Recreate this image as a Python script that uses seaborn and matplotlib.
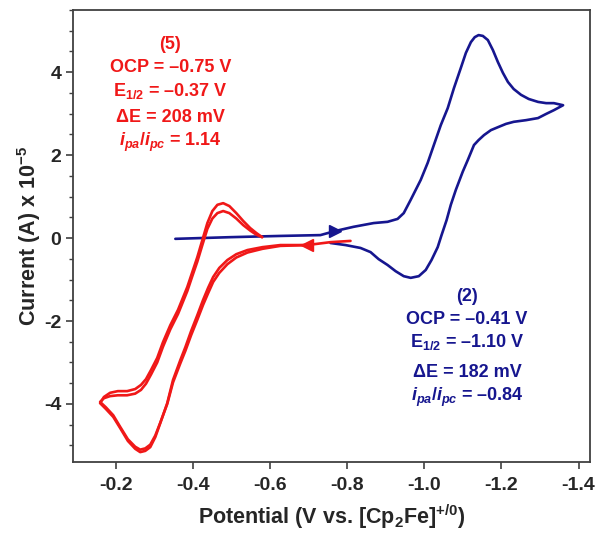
import numpy as np
import pandas as pd
import matplotlib
matplotlib.use("Agg")
import matplotlib.pyplot as plt
from matplotlib.ticker import MultipleLocator, FormatStrFormatter
import seaborn as sns

# (5) red CV - potential (V) and current (x 1e-5 A), two cycles
# lower branch (scan towards -0.16 V)
red_lower_v = [-0.809, -0.757, -0.697, -0.627, -0.581, -0.542, -0.513, -0.490, -0.469, -0.453,
               -0.440, -0.427, -0.412, -0.396, -0.381, -0.368, -0.349, -0.334, -0.316, -0.303,
               -0.290, -0.277, -0.264, -0.251, -0.232, -0.212, -0.194, -0.175, -0.160]
red_lower1_i = [-0.07, -0.10, -0.17, -0.17, -0.22, -0.29, -0.39, -0.53, -0.72, -0.94,
                -1.20, -1.49, -1.86, -2.24, -2.63, -2.94, -3.42, -3.98, -4.46, -4.80,
                -5.04, -5.13, -5.16, -5.08, -4.89, -4.58, -4.31, -4.12, -3.98]
red_lower2_i = [None, None, -0.17, -0.19, -0.26, -0.35, -0.47, -0.63, -0.84, -1.06,
                -1.33, -1.61, -1.97, -2.34, -2.72, -3.02, -3.48, -4.00, -4.45, -4.76,
                -4.98, -5.07, -5.10, -5.03, -4.85, -4.55, -4.27, -4.08, -3.95]
# upper branch (scan back towards -0.58 V)
red_upper_v = [-0.160, -0.170, -0.186, -0.206, -0.230, -0.251, -0.266, -0.279, -0.292, -0.308,
               -0.323, -0.342, -0.362, -0.386, -0.399, -0.412, -0.425, -0.438, -0.451, -0.464,
               -0.479, -0.495, -0.513, -0.531, -0.549, -0.565, -0.580]
red_upper1_i = [-3.98, -3.83, -3.73, -3.69, -3.69, -3.64, -3.54, -3.40, -3.18, -2.89,
                -2.51, -2.10, -1.73, -1.18, -0.82, -0.46, -0.05, 0.36, 0.65, 0.80,
                0.84, 0.77, 0.60, 0.41, 0.24, 0.12, 0.02]
red_upper2_i = [-3.95, -3.86, -3.81, -3.79, -3.79, -3.75, -3.66, -3.51, -3.29, -3.00,
                -2.62, -2.20, -1.83, -1.28, -0.92, -0.57, -0.17, 0.22, 0.47, 0.60,
                0.65, 0.60, 0.47, 0.31, 0.18, 0.08, 0.02]

# (2) blue CV
blue_v = [-0.355, -0.497, -0.627, -0.731, -0.770, -0.817, -0.869, -0.905, -0.931, -0.947,
          -0.965, -0.991, -1.009, -1.025, -1.043, -1.061, -1.077, -1.095, -1.108, -1.121,
          -1.131, -1.141, -1.152, -1.165, -1.178, -1.191, -1.204, -1.217, -1.232, -1.251,
          -1.271, -1.295, -1.316, -1.336, -1.360,
          -1.336, -1.316, -1.295, -1.264, -1.232, -1.212, -1.191, -1.173, -1.155, -1.141,
          -1.129, -1.113, -1.100, -1.082, -1.069, -1.058, -1.045, -1.035, -1.019, -1.004,
          -0.986, -0.965, -0.947, -0.926, -0.905, -0.882, -0.861, -0.835, -0.796, -0.757]
blue_i = [-0.02, 0.02, 0.05, 0.07, 0.17, 0.27, 0.36, 0.39, 0.46, 0.60,
          0.92, 1.40, 1.81, 2.24, 2.72, 3.13, 3.61, 4.10, 4.46, 4.72,
          4.84, 4.89, 4.87, 4.77, 4.53, 4.24, 3.98, 3.76, 3.59, 3.45,
          3.35, 3.28, 3.25, 3.25, 3.20,
          3.08, 2.99, 2.89, 2.84, 2.80, 2.75, 2.67, 2.60, 2.48, 2.36,
          2.24, 1.88, 1.60, 1.16, 0.80, 0.43, 0.07, -0.22, -0.53, -0.77,
          -0.92, -0.96, -0.92, -0.80, -0.65, -0.51, -0.34, -0.24, -0.17, -0.12]

red_text = ["(5)", "OCP = –0.75 V", "$E_{1/2}$ = –0.37 V", "ΔE = 208 mV",
            r"$\mathit{i_{pa}/i_{pc}}$ = 1.14"]
blue_text = ["(2)", "OCP = –0.41 V", "$E_{1/2}$ = –1.10 V", "ΔE = 182 mV",
             r"$\mathit{i_{pa}/i_{pc}}$ = –0.84"]

RED = "#f01818"
BLUE = "#16168f"

sns.set_style("ticks")
plt.rcParams["font.family"] = ["Liberation Sans", "DejaVu Sans"]
plt.rcParams["font.weight"] = "bold"
plt.rcParams["axes.labelweight"] = "bold"
plt.rcParams["axes.unicode_minus"] = False
plt.rcParams["mathtext.fontset"] = "custom"
plt.rcParams["mathtext.rm"] = "Liberation Sans:bold"
plt.rcParams["mathtext.bf"] = "Liberation Sans:bold"
plt.rcParams["mathtext.it"] = "Liberation Sans:italic:bold"
plt.rcParams["mathtext.default"] = "rm"

# build long table: one unit per cycle
rows = []
for cyc, (lo, up) in enumerate([(red_lower1_i, red_upper1_i), (red_lower2_i, red_upper2_i)]):
    seq = [(v, c) for v, c in zip(red_lower_v, lo) if c is not None]
    seq += list(zip(red_upper_v[1:], up[1:]))
    for k, (v, c) in enumerate(seq):
        rows.append({"cycle": cyc, "order": k, "v": v, "i": c})
df_red = pd.DataFrame(rows)
df_blue = pd.DataFrame({"v": blue_v, "i": blue_i, "cycle": 0})

fig = plt.figure(figsize=(6.04, 5.43), dpi=100)
ax = fig.add_axes([0.121, 0.149, 0.856, 0.833])

sns.lineplot(data=df_blue, x="v", y="i", units="cycle", sort=False, estimator=None,
             color=BLUE, lw=1.9, ax=ax)
sns.lineplot(data=df_red, x="v", y="i", units="cycle", sort=False, estimator=None,
             color=RED, lw=1.9, ax=ax)

# scan direction arrows
ax.plot(blue_v[4], blue_i[4], marker=">", color=BLUE, ms=8, mec=BLUE)
ax.plot(red_lower_v[2], red_lower1_i[2], marker="<", color=RED, ms=8, mec=RED)

ax.set_xlim(-0.09, -1.43)
ax.set_ylim(-5.4, 5.5)
ax.xaxis.set_major_locator(MultipleLocator(0.2))
ax.xaxis.set_major_formatter(FormatStrFormatter("%.1f"))
ax.yaxis.set_major_locator(MultipleLocator(2))
ax.yaxis.set_minor_locator(MultipleLocator(0.5))
ax.tick_params(axis="both", which="major", direction="out", length=5, width=1.2,
               labelsize=14, color="#404040")
ax.tick_params(axis="x", which="major", pad=6)
ax.tick_params(axis="y", which="minor", direction="out", length=3, width=1.0, color="#404040")
for sp in ax.spines.values():
    sp.set_color("#404040")
    sp.set_linewidth(1.3)

ax.set_xlabel("Potential (V vs. [Cp$_2$Fe]$^{+/0}$)", fontsize=15.5, labelpad=6)
ax.set_ylabel("Current (A) x 10$^{-5}$", fontsize=15.5, labelpad=1)

red_y = [0.923, 0.872, 0.821, 0.761, 0.706]
blue_y = [0.365, 0.316, 0.265, 0.199, 0.144]
for s, y in zip(red_text, red_y):
    ax.text(0.188, y, s, transform=ax.transAxes, ha="center", va="center",
            color=RED, fontsize=13, fontweight="bold")
for s, y in zip(blue_text, blue_y):
    ax.text(0.762, y, s, transform=ax.transAxes, ha="center", va="center",
            color=BLUE, fontsize=13, fontweight="bold")

plt.savefig("out.png", dpi=100)
